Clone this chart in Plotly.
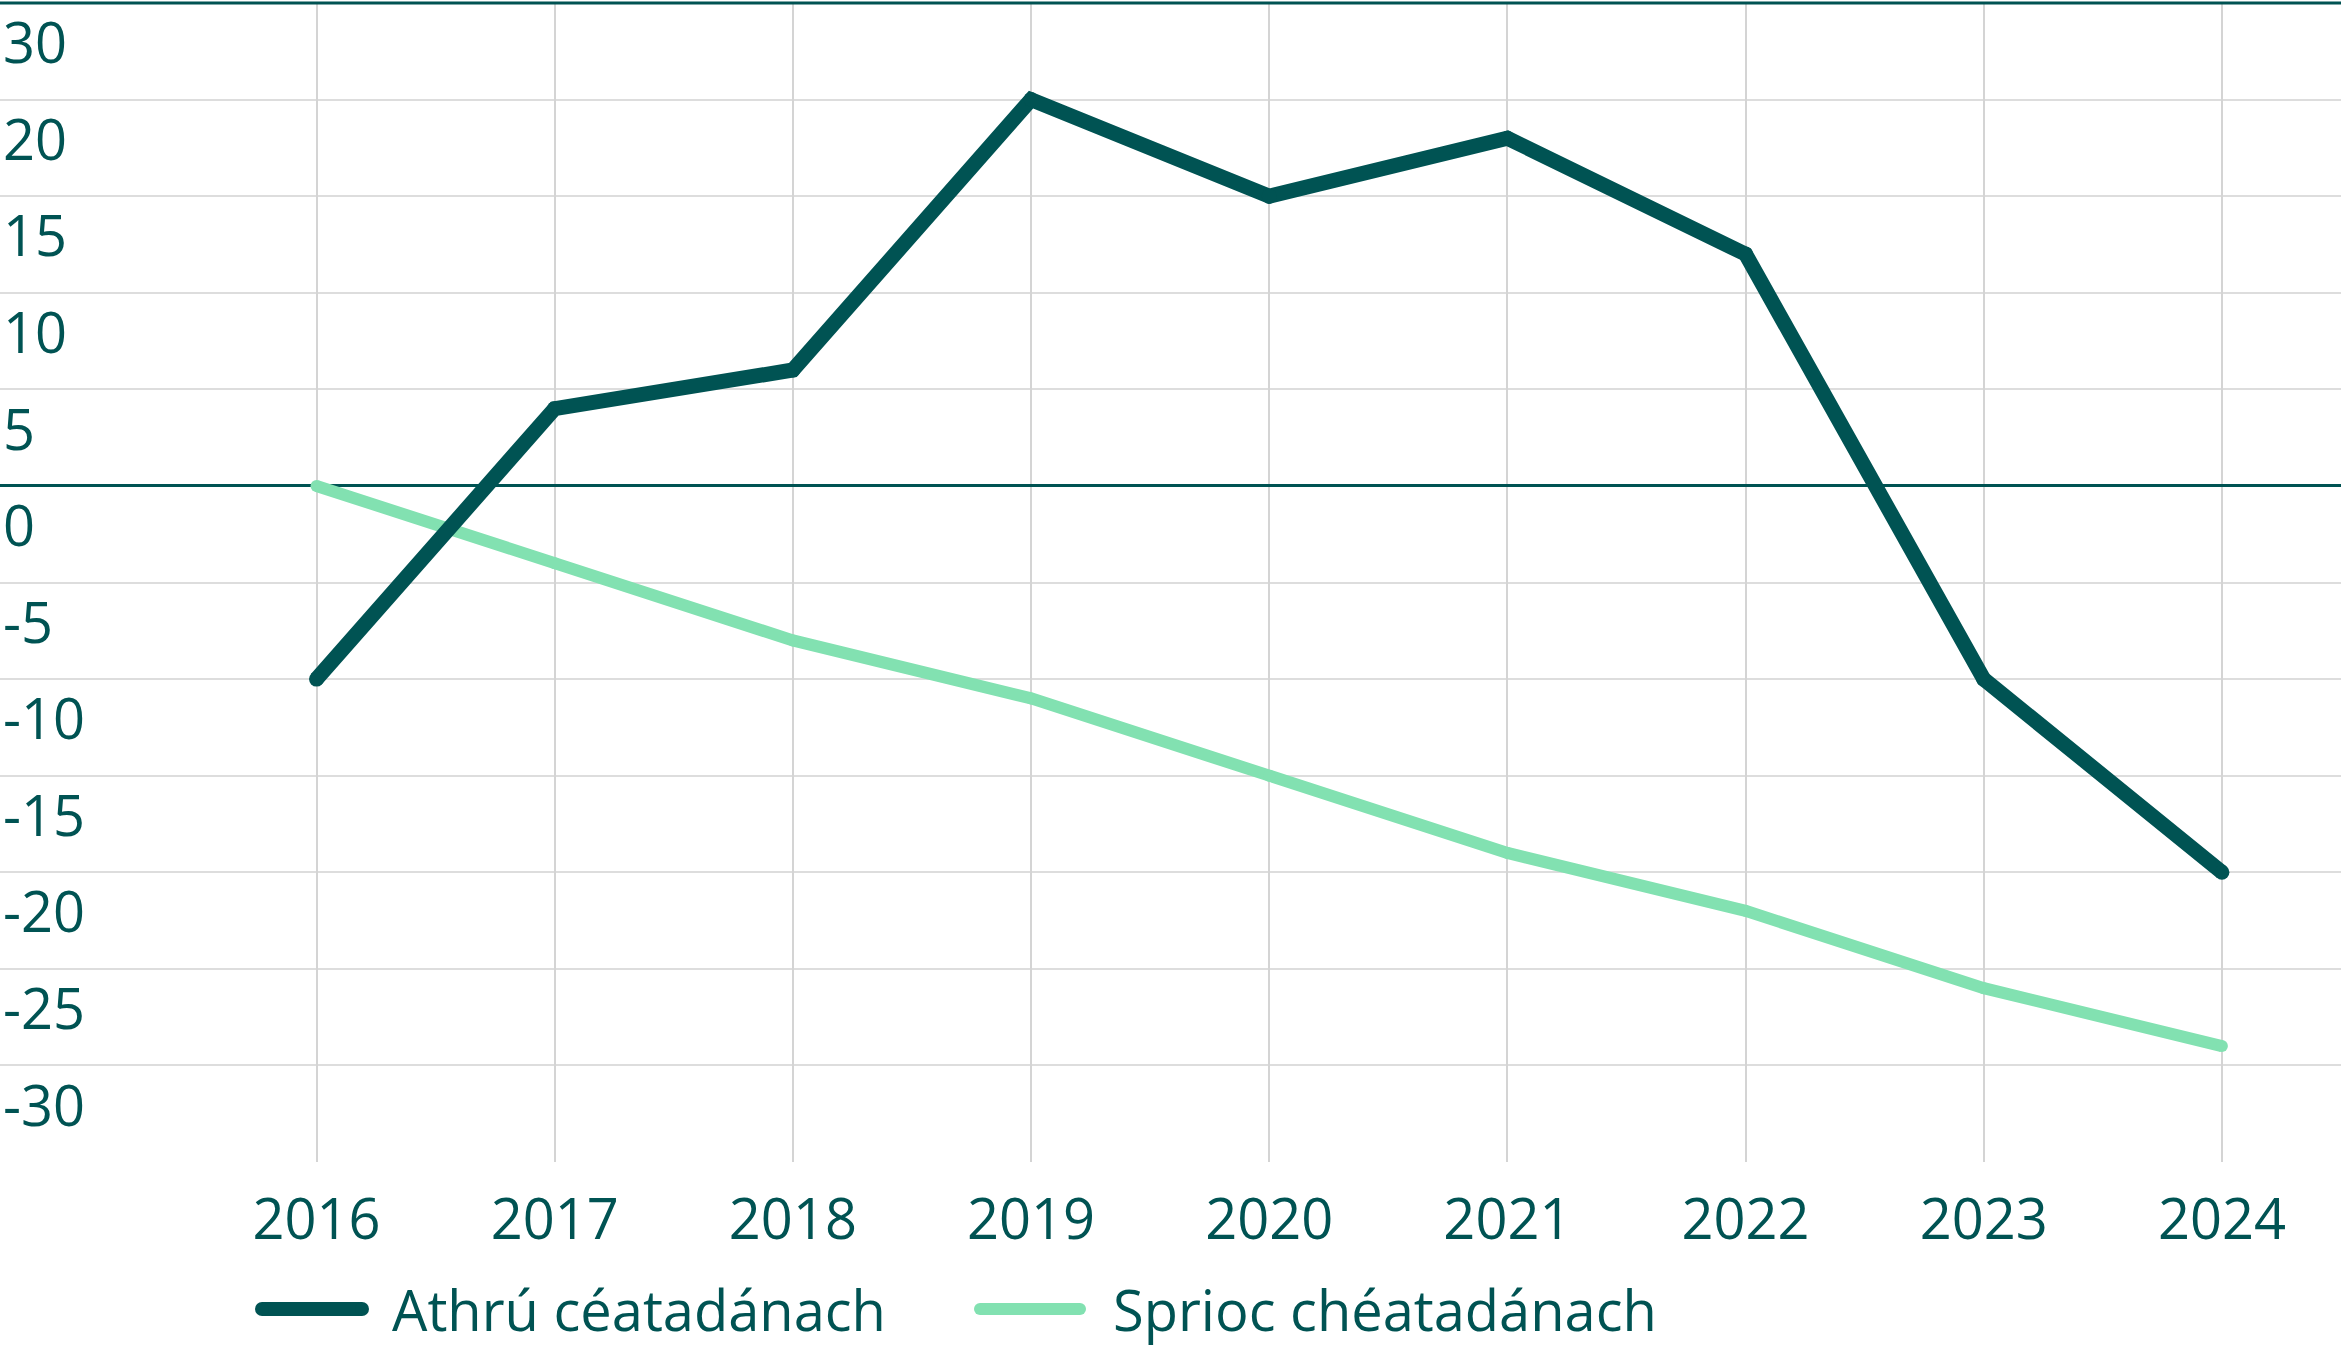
import plotly.graph_objects as go

years = [2016, 2017, 2018, 2019, 2020, 2021, 2022, 2023, 2024]
athru = [-10, 4, 6, 20, 15, 18, 12, -10, -20]
sprioc = [0, -4, -8, -11, -15, -19, -22, -26, -29]
series_names = ["Athrú céatadánach", "Sprioc chéatadánach"]

y_grid = [25, 20, 15, 10, 5, 0, -5, -10, -15, -20, -25, -30, -35]
y_tick_text = ["30", "20", "15", "10", "5", "0", "-5", "-10", "-15", "-20", "-25", "-30"]

dark = "#005353"
light = "#82e1b1"
W, H = 2341, 1350
M_B = 188
FONT = "Open Sans"
FS = 56

fig = go.Figure()

fig.add_trace(go.Scatter(
    x=years, y=sprioc, name=series_names[1], mode="lines+markers",
    line=dict(color=light, width=12), marker=dict(color=light, size=12),
))
fig.add_trace(go.Scatter(
    x=years, y=athru, name=series_names[0], mode="lines+markers",
    line=dict(color=dark, width=15), marker=dict(color=dark, size=15),
))

# labels sit a little below their gridlines
label_pos = [v - 2.1 for v in y_grid[:len(y_tick_text)]]

fig.update_yaxes(
    range=[-35, 25], showgrid=False,
    tickvals=label_pos, ticktext=y_tick_text,
    ticks="", ticklabelposition="inside", ticklabelstandoff=0,
    tickfont=dict(size=FS, color=dark, family=FONT),
    zeroline=True, zerolinecolor=dark, zerolinewidth=3,
    minor=dict(tickvals=y_grid, showgrid=True, gridcolor="#dddddd", gridwidth=2, ticks=""),
    automargin=False, showline=False,
)
fig.update_xaxes(
    range=[2014.671, 2024.5], tickvals=years, ticks="",
    showgrid=True, gridcolor="#d4d4d4", gridwidth=2, zeroline=False,
    tickfont=dict(size=FS, color=dark, family=FONT),
    ticklabelstandoff=20, automargin=False, showline=False,
)

# top rule
fig.add_shape(type="line", xref="paper", yref="paper", x0=0, x1=1, y0=1, y1=1,
              line=dict(color=dark, width=3))

# hand-drawn legend
plot_h = H - 3 - M_B
leg_y = (H - M_B - 1309) / plot_h
legend_items = [(series_names[0], dark, 262, 390, 14), (series_names[1], light, 980, 1111, 12)]
for name, col, sx, tx, lw in legend_items:
    fig.add_shape(type="line", xref="paper", yref="paper", xsizemode="pixel", ysizemode="pixel",
                  xanchor=sx / W, yanchor=leg_y, x0=0, x1=100, y0=0, y1=0,
                  line=dict(color=col, width=lw))
    for end in (0, 100):
        fig.add_shape(type="circle", xref="paper", yref="paper", xsizemode="pixel", ysizemode="pixel",
                      xanchor=sx / W, yanchor=leg_y, x0=end - lw / 2, x1=end + lw / 2,
                      y0=-lw / 2, y1=lw / 2, fillcolor=col, line=dict(width=0))
    fig.add_annotation(text=name, xref="paper", yref="paper", x=tx / W, y=leg_y,
                       xanchor="left", yanchor="middle", showarrow=False,
                       font=dict(size=FS, color=dark, family=FONT))

fig.update_layout(
    width=W, height=H,
    margin=dict(l=0, r=0, t=3, b=M_B),
    plot_bgcolor="white", paper_bgcolor="white",
    showlegend=False,
    font=dict(family=FONT, color=dark),
)

fig.write_html("out.html", config={"displayModeBar": False},
               post_script="document.body.style.margin='0';")
